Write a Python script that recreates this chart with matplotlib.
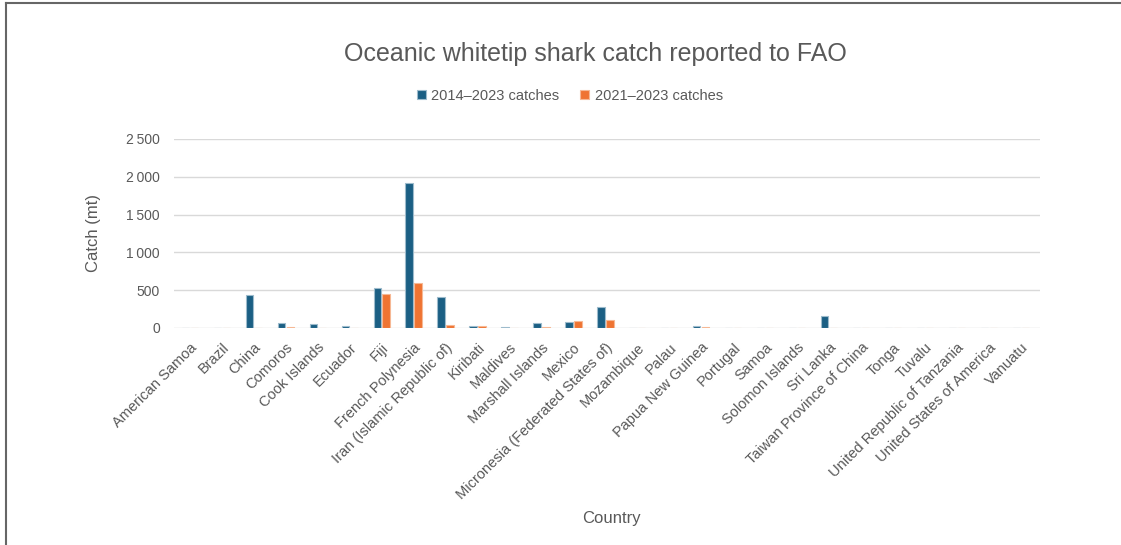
import numpy as np
import matplotlib.pyplot as plt
from matplotlib.lines import Line2D

plt.rcParams['font.family'] = ['Liberation Sans', 'DejaVu Sans']

countries = [
    "American Samoa", "Brazil", "China", "Comoros", "Cook Islands", "Ecuador",
    "Fiji", "French Polynesia", "Iran (Islamic Republic of)", "Kiribati",
    "Maldives", "Marshall Islands", "Mexico",
    "Micronesia (Federated States of)", "Mozambique", "Palau",
    "Papua New Guinea", "Portugal", "Samoa", "Solomon Islands", "Sri Lanka",
    "Taiwan Province of China", "Tonga", "Tuvalu",
    "United Republic of Tanzania", "United States of America", "Vanuatu",
]
catch_2014_2023 = [0, 4, 430, 70, 57, 20, 533, 1914, 414, 30, 8, 66, 85,
                   273, 1, 1, 30, 3, 5, 1, 159, 3, 6, 1, 1, 1, 3]
catch_2021_2023 = [0, 1, 5, 10, 2, 1, 446, 591, 44, 30, 1, 18, 88,
                   106, 1, 1, 10, 1, 1, 1, 1, 2, 5, 1, 0, 0, 3]

blue = '#1b5f84'
orange = '#ef7432'
text_grey = '#595959'

fig = plt.figure(figsize=(11.21, 5.45), dpi=100)
ax = fig.add_axes([0.1552, 0.3982, 0.7725, 0.3468])

x = np.arange(len(countries))
w = 0.23
ax.bar(x - 0.14, catch_2014_2023, w, color=blue,
       edgecolor='#9dbbcc', linewidth=0.8, label='2014–2023 catches', zorder=3)
ax.bar(x + 0.14, catch_2021_2023, w, color=orange,
       edgecolor='#f6b894', linewidth=0.8, label='2021–2023 catches', zorder=3)

ax.set_xlim(-0.5, len(countries) - 0.4)
ax.set_ylim(0, 2500)
ax.set_yticks(range(0, 2501, 500))
ax.set_yticklabels([f'{v:,}'.replace(',', '\u2009') if v >= 1000 else str(v)
                    for v in range(0, 2501, 500)])
ax.yaxis.grid(True, color='#d9d9d9', linewidth=1, zorder=0)
ax.set_axisbelow(True)
for s in ax.spines.values():
    s.set_visible(False)
ax.tick_params(axis='both', length=0, colors=text_grey, labelsize=10)
ax.tick_params(axis='y', pad=10)

ax.set_xticks(x)
ax.set_xticklabels(countries, rotation=45, ha='right', rotation_mode='anchor',
                   fontsize=10.5)
ax.tick_params(axis='x', pad=9)

ax.set_ylabel('Catch (mt)', color=text_grey, fontsize=12, labelpad=18)
fig.text(0.545, 0.04, 'Country', color=text_grey, fontsize=12, ha='center')
fig.text(0.531, 0.9, 'Oceanic whitetip shark catch reported to FAO',
         color=text_grey, fontsize=18, ha='center', va='center')

ax.legend(loc='center', bbox_to_anchor=(0.457, 1.23), ncol=2, frameon=False,
          fontsize=10.5, labelcolor=text_grey, handlelength=0.6, handleheight=0.6,
          handletextpad=0.4, columnspacing=1.4)

# chart frame
fig.add_artist(Line2D([6 / 1121, 6 / 1121], [0, 1 - 3 / 545], color='#666666', linewidth=1.5))
fig.add_artist(Line2D([6 / 1121, 1], [1 - 3 / 545, 1 - 3 / 545], color='#666666', linewidth=1.5))

fig.savefig('out.png', dpi=100)
